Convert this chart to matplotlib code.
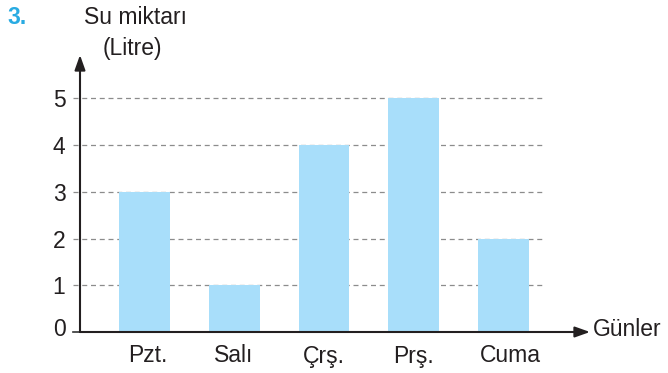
import matplotlib.pyplot as plt
import matplotlib.transforms as mtransforms
import numpy as np

plt.rcParams['font.family'] = ['Liberation Sans', 'DejaVu Sans']

# water used per day (litres)
days = ["Pzt.", "Salı", "Çrş.", "Prş.", "Cuma"]
litres = [3, 1, 4, 5, 2]
yticks = [0, 1, 2, 3, 4, 5]

W, H = 668, 373
FS = 16.5
ink = '#231f20'
fig = plt.figure(figsize=(W / 100, H / 100), dpi=100)

# axes box in pixels: left 80, bottom at y=332, top at y=55, right at 590
left, right, bottom, top = 80, 590, 332, 55
ax = fig.add_axes([left / W, (H - bottom) / H, (right - left) / W, (bottom - top) / H])

step = 90.0        # px between bars
first = 144 - left  # px from axis to first bar centre
x = np.arange(len(days))
ax.set_xlim(-first / step, (right - left - first) / step)
ax.set_ylim(0, (bottom - top) / 46.75)

# dashed guide lines, slightly past the axis on the left
grid_end = (545 - 144) / step
grid_start = (73 - 144) / step
for v in yticks[1:]:
    ax.plot([grid_start, grid_end], [v, v], ls=(0, (4, 3)), color='#8c8c8c',
            lw=0.9, clip_on=False, zorder=1)
ax.plot([grid_start, 0 - first / step], [0, 0], color='#333333', lw=1.2,
        clip_on=False, zorder=1)

ax.bar(x, litres, width=51 / step, color='#a8defa', zorder=2)

for s in ax.spines.values():
    s.set_visible(False)
ax.set_xticks(x)
ax.set_xticklabels(days, fontsize=FS, color=ink)
ax.set_yticks(yticks)
ax.set_yticklabels([str(v) for v in yticks], fontsize=FS, color=ink)
ax.tick_params(axis='both', length=0)
ax.tick_params(axis='x', pad=9)
ax.tick_params(axis='y', pad=10.5)

# small nudges: first and last day names sit a bit right, "0" sits above the axis
nudge = {0: 4, 4: 6}
for i, lab in enumerate(ax.get_xticklabels()):
    if i in nudge:
        lab.set_transform(lab.get_transform() +
                          mtransforms.ScaledTranslation(nudge[i] / 100, 0, fig.dpi_scale_trans))
zero = ax.get_yticklabels()[0]
zero.set_transform(zero.get_transform() +
                   mtransforms.ScaledTranslation(0, 5 / 100, fig.dpi_scale_trans))

# axis arrows
arrow = dict(arrowstyle='-|>,head_length=0.9,head_width=0.32', color=ink,
             lw=1.5, shrinkA=0, shrinkB=0)
ax.annotate('', xy=(0, 1), xytext=(0, 0), xycoords='axes fraction', arrowprops=arrow)
ax.annotate('', xy=(1, 0), xytext=(0, 0), xycoords='axes fraction', arrowprops=arrow)

fig.text(593 / W, 1 - 330 / H, "Günler", fontsize=FS, color=ink, va='center')
fig.text(84 / W, 1 - 18 / H, "Su miktarı", fontsize=FS, color=ink, va='center')
fig.text(103 / W, 1 - 48 / H, "(Litre)", fontsize=FS, color=ink, va='center')
fig.text(7 / W, 1 - 18 / H, "3.", fontsize=FS, color='#29abe2',
         fontweight='bold', va='center')

fig.savefig("out.png", dpi=100)
